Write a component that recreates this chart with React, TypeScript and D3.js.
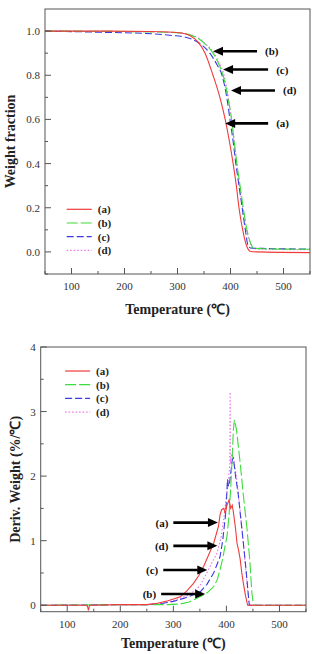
import React, { useEffect, useRef } from 'react';
import * as d3 from 'd3';

type Pt = [number, number];

// TGA: weight fraction vs temperature
const tgaA: Pt[] = [[50, 1.0], [150, 1.0], [250, 0.998], [290, 0.995], [310, 0.99], [323, 0.98], [339, 0.95], [352, 0.9], [367, 0.8], [380, 0.7], [390, 0.6], [398, 0.5], [405, 0.4], [411, 0.3], [416, 0.2], [423, 0.1], [430, 0.03], [437, 0.003], [450, 0], [550, -0.003]];
const tgaB: Pt[] = [[50, 1.0], [200, 0.998], [300, 0.993], [320, 0.985], [340, 0.965], [355, 0.935], [367, 0.9], [378, 0.85], [386, 0.8], [395, 0.7], [402, 0.6], [407, 0.5], [412, 0.4], [418, 0.3], [424, 0.2], [431, 0.1], [438, 0.04], [443, 0.018], [460, 0.014], [550, 0.012]];
const tgaC: Pt[] = [[50, 1.0], [150, 0.995], [250, 0.988], [290, 0.98], [310, 0.975], [330, 0.96], [347, 0.935], [361, 0.9], [374, 0.85], [384, 0.8], [393, 0.7], [399, 0.6], [405, 0.5], [410, 0.4], [416, 0.3], [422, 0.2], [428, 0.1], [433, 0.03], [438, 0.018], [460, 0.016], [550, 0.013]];
const tgaD: Pt[] = [[50, 1.0], [200, 0.998], [300, 0.993], [320, 0.986], [340, 0.968], [355, 0.938], [369, 0.9], [380, 0.85], [388, 0.8], [396, 0.7], [402, 0.6], [407, 0.5], [412, 0.4], [417, 0.3], [423, 0.2], [430, 0.1], [437, 0.04], [442, 0.018], [460, 0.012], [550, 0.01]];

// DTG: derivative weight (%/℃) vs temperature
const dtgA: Pt[] = [[50, 0], [135, 0], [138, -0.01], [140, -0.08], [142, 0], [200, 0.01], [250, 0.01], [270, 0.03], [290, 0.07], [313, 0.13], [325, 0.22], [338, 0.34], [348, 0.46], [357, 0.6], [366, 0.77], [376, 0.96], [385, 1.22], [388, 1.4], [391, 1.48], [395, 1.5], [398, 1.42], [401, 1.55], [405, 1.63], [408, 1.5], [411, 1.55], [413, 1.45], [417, 1.2], [420, 0.96], [423, 0.85], [426, 0.71], [429, 0.5], [432, 0.34], [436, 0.15], [440, 0], [550, 0]];
const dtgB: Pt[] = [[50, 0], [250, 0.01], [290, 0.01], [313, 0.02], [330, 0.05], [350, 0.13], [365, 0.2], [376, 0.29], [383, 0.4], [388, 0.55], [393, 0.72], [397, 0.9], [401, 1.06], [405, 1.4], [408, 1.8], [411, 2.3], [413, 2.7], [415, 2.87], [417, 2.8], [419, 2.72], [422, 2.5], [426, 2.2], [432, 1.7], [439, 1.17], [444, 0.7], [448, 0.19], [451, 0], [550, 0]];
const dtgC: Pt[] = [[50, 0], [250, 0.01], [280, 0.03], [300, 0.06], [325, 0.12], [340, 0.17], [351, 0.21], [363, 0.32], [376, 0.5], [388, 0.75], [393, 1.0], [398, 1.37], [400, 1.6], [402, 1.95], [404, 1.84], [406, 1.9], [409, 2.1], [411, 2.25], [413, 2.28], [415, 2.15], [418, 1.95], [422, 1.74], [427, 1.35], [432, 0.96], [437, 0.55], [441, 0.19], [443, 0], [550, 0]];
const dtgD: Pt[] = [[50, 0], [250, 0.01], [280, 0.03], [300, 0.07], [330, 0.16], [350, 0.3], [363, 0.5], [374, 0.68], [382, 0.8], [390, 1.05], [396, 1.4], [400, 1.7], [404, 1.95], [406.5, 2.2], [407, 3.3], [407.5, 2.2], [410, 2.35], [413, 2.3], [417, 2.1], [421, 1.85], [426, 1.45], [432, 0.95], [437, 0.5], [441, 0.15], [444, 0], [550, 0]];

const seriesLabels = ['(a)', '(b)', '(c)', '(d)'];
const seriesColors = ['#f03a3a', '#3cdc3c', '#3a3ae0', '#f070f0'];
const seriesDash = ['none', '11,3', '7,3', '1.5,2'];

const xTicks = [100, 200, 300, 400, 500];
const tgaTicks = [0, 0.2, 0.4, 0.6, 0.8, 1.0];
const dtgTicks = [0, 1, 2, 3, 4];

// arrows: label, y value, tail temp, tip temp
const tgaArrows: [string, number, number, number][] = [['(b)', 0.909, 450, 367], ['(c)', 0.826, 471, 386], ['(d)', 0.731, 484, 401], ['(a)', 0.582, 471, 390]];
const dtgArrows: [string, number, number, number][] = [['(a)', 1.28, 300, 384], ['(d)', 0.92, 300, 383], ['(c)', 0.547, 281, 364], ['(b)', 0.175, 277, 360]];

const FONT = '"Liberation Serif", "Times New Roman", serif';

const App: React.FC = () => {
  const svgRef = useRef<SVGSVGElement>(null);

  useEffect(() => {
    if (!svgRef.current) return;
    const svg = d3.select(svgRef.current);
    svg.selectAll('*').remove();

    const drawPanel = (opts: {
      left: number; right: number; top: number; bottom: number;
      yDomain: [number, number]; yTicks: number[]; yMinor: number[]; yFmt: (d: number) => string;
      data: Pt[][]; curve: d3.CurveFactory; yTitle: string; yTitleX: number; xTitleY: number;
      legendTop: number; legendT: number;
      arrows: [string, number, number, number][]; labelsAfter: boolean;
    }) => {
      const x = d3.scaleLinear().domain([50, 550]).range([opts.left, opts.right]);
      const y = d3.scaleLinear().domain(opts.yDomain).range([opts.bottom, opts.top]);
      const g = svg.append('g');

      // clip lines to the plot box
      const clipId = `clip-${opts.top}`;
      g.append('clipPath').attr('id', clipId).append('rect')
        .attr('x', opts.left).attr('y', opts.top)
        .attr('width', opts.right - opts.left).attr('height', opts.bottom - opts.top);

      const line = d3.line<Pt>().x(d => x(d[0])).y(d => y(d[1])).curve(opts.curve);
      // draw (d), (c), (b) first so red sits on top where it separates
      [3, 2, 1, 0].forEach(i => {
        g.append('path').attr('d', line(opts.data[i]) || '')
          .attr('clip-path', `url(#${clipId})`)
          .attr('fill', 'none').attr('stroke', seriesColors[i]).attr('stroke-width', 1.1)
          .attr('stroke-dasharray', seriesDash[i]);
      });

      // frame
      g.append('rect').attr('x', opts.left).attr('y', opts.top)
        .attr('width', opts.right - opts.left).attr('height', opts.bottom - opts.top)
        .attr('fill', 'none').attr('stroke', '#555').attr('stroke-width', 1);

      // x ticks (inward)
      const xMinor = [50, 150, 250, 350, 450, 550];
      xTicks.forEach(t => {
        g.append('line').attr('x1', x(t)).attr('x2', x(t)).attr('y1', opts.bottom).attr('y2', opts.bottom - 6)
          .attr('stroke', '#555');
        g.append('text').attr('x', x(t)).attr('y', opts.bottom + 16).attr('text-anchor', 'middle')
          .style('font-family', FONT).style('font-size', '11px').style('fill', '#333').text(t);
      });
      xMinor.forEach(t => {
        g.append('line').attr('x1', x(t)).attr('x2', x(t)).attr('y1', opts.bottom).attr('y2', opts.bottom - 3)
          .attr('stroke', '#555');
      });
      opts.yTicks.forEach(t => {
        g.append('line').attr('x1', opts.left).attr('x2', opts.left + 6).attr('y1', y(t)).attr('y2', y(t))
          .attr('stroke', '#555');
        g.append('text').attr('x', opts.left - 5).attr('y', y(t) + 4).attr('text-anchor', 'end')
          .style('font-family', FONT).style('font-size', '11px').style('fill', '#333').text(opts.yFmt(t));
      });
      opts.yMinor.forEach(t => {
        g.append('line').attr('x1', opts.left).attr('x2', opts.left + 3).attr('y1', y(t)).attr('y2', y(t))
          .attr('stroke', '#555');
      });

      // axis titles
      g.append('text').attr('x', (opts.left + opts.right) / 2).attr('y', opts.xTitleY)
        .attr('text-anchor', 'middle').style('font-family', FONT).style('font-size', '14px')
        .style('font-weight', 'bold').style('fill', '#222').text('Temperature (℃)');
      const cy = (opts.top + opts.bottom) / 2;
      g.append('text').attr('transform', `translate(${opts.yTitleX},${cy}) rotate(-90)`)
        .attr('text-anchor', 'middle').style('font-family', FONT).style('font-size', '14px')
        .style('font-weight', 'bold').style('fill', '#222').text(opts.yTitle);

      // legend
      const lx = x(opts.legendT);
      seriesLabels.forEach((lab, i) => {
        const ly = opts.legendTop + i * 13.7;
        g.append('line').attr('x1', lx).attr('x2', lx + 25).attr('y1', ly).attr('y2', ly)
          .attr('stroke', seriesColors[i]).attr('stroke-width', 1.2).attr('stroke-dasharray', seriesDash[i]);
        g.append('text').attr('x', lx + 31).attr('y', ly + 4)
          .style('font-family', FONT).style('font-size', '11px').style('font-weight', 'bold')
          .style('fill', '#222').text(lab);
      });

      // arrows
      opts.arrows.forEach(([lab, v, tail, tip]) => {
        const yy = y(v);
        const x0 = x(tail), x1 = x(tip);
        const dir = Math.sign(x1 - x0);
        g.append('line').attr('x1', x0).attr('x2', x1 - dir * 8).attr('y1', yy).attr('y2', yy)
          .attr('stroke', '#000').attr('stroke-width', 2.6);
        g.append('path').attr('d', `M${x1},${yy}L${x1 - dir * 10},${yy - 4.5}L${x1 - dir * 10},${yy + 4.5}Z`)
          .attr('fill', '#000');
        g.append('text')
          .attr('x', opts.labelsAfter ? x0 + 8 : x0 - 5).attr('y', yy + 4)
          .attr('text-anchor', opts.labelsAfter ? 'start' : 'end')
          .style('font-family', FONT).style('font-size', '11px').style('font-weight', 'bold')
          .style('fill', '#111').text(lab);
      });
    };

    drawPanel({
      left: 45, right: 310, top: 9, bottom: 274,
      yDomain: [-0.1, 1.1], yTicks: tgaTicks, yMinor: [-0.1, 0.1, 0.3, 0.5, 0.7, 0.9], yFmt: d => d.toFixed(1),
      data: [tgaA, tgaB, tgaC, tgaD], curve: d3.curveMonotoneX, yTitle: 'Weight fraction',
      yTitleX: 14.5, xTitleY: 314, legendTop: 209.3, legendT: 91, arrows: tgaArrows, labelsAfter: true
    });
    drawPanel({
      left: 40.7, right: 306, top: 347, bottom: 611.7,
      yDomain: [-0.1, 4], yTicks: dtgTicks, yMinor: [0.5, 1.5, 2.5, 3.5], yFmt: d => String(d),
      data: [dtgA, dtgB, dtgC, dtgD], curve: d3.curveLinear, yTitle: 'Deriv. Weight (%/℃)',
      yTitleX: 19.5, xTitleY: 648, legendTop: 371, legendT: 96, arrows: dtgArrows, labelsAfter: false
    });
  }, []);

  return <svg ref={svgRef} width={312} height={654}
    style={{ position: 'absolute', left: 0, top: 0, background: '#fff', display: 'block' }} />;
};

export default App;
